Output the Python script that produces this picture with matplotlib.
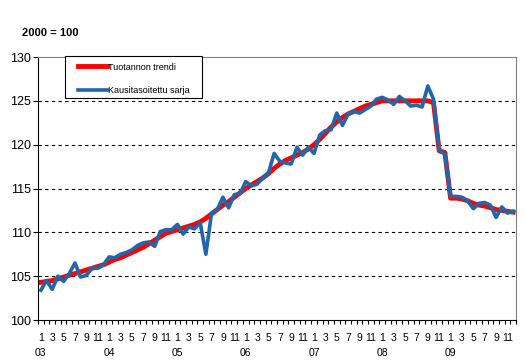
import numpy as np
import matplotlib
matplotlib.use("Agg")
import matplotlib.pyplot as plt
from matplotlib.patches import Rectangle

plt.rcParams['font.family'] = ['Liberation Sans', 'DejaVu Sans']

years = ["03", "04", "05", "06", "07", "08", "09"]
months = list(range(1, 13))

# Tuotannon trendi, 1/2003 - 12/2009
trend = [
    104.3, 104.4, 104.5, 104.7, 104.9, 105.1, 105.3, 105.5, 105.7, 105.9, 106.1, 106.3,
    106.6, 106.9, 107.1, 107.4, 107.7, 108.0, 108.3, 108.7, 109.1, 109.5, 109.9, 110.1,
    110.3, 110.5, 110.7, 110.9, 111.2, 111.6, 112.1, 112.6, 113.1, 113.5, 114.0, 114.5,
    115.0, 115.4, 115.8, 116.2, 116.7, 117.3, 117.8, 118.2, 118.5, 118.8, 119.1, 119.5,
    120.0, 120.6, 121.3, 122.0, 122.6, 123.1, 123.5, 123.8, 124.1, 124.4, 124.6, 124.8,
    125.0, 125.0, 125.0, 125.0, 125.0, 125.0, 125.0, 125.0, 125.0, 124.8, 119.3, 119.1,
    113.9, 113.9, 113.8, 113.6, 113.3, 113.1, 113.0, 112.8, 112.6, 112.5, 112.4, 112.3,
]

# Kausitasoitettu sarja
seasonal = [
    103.4, 104.5, 103.5, 105.0, 104.4, 105.3, 106.5, 104.9, 105.1, 105.9, 105.9, 106.3,
    107.2, 107.1, 107.5, 107.7, 108.0, 108.5, 108.8, 108.9, 108.4, 110.1, 110.3, 110.3,
    110.9, 109.8, 110.6, 110.4, 111.1, 107.5, 112.2, 112.6, 114.0, 112.8, 114.3, 114.4,
    115.8, 115.3, 115.5, 116.2, 116.8, 119.0, 118.1, 117.9, 117.8, 119.7, 118.8, 119.7,
    119.0, 121.1, 121.6, 121.7, 123.6, 122.2, 123.5, 123.8, 123.6, 124.0, 124.4, 125.2,
    125.4, 125.1, 124.6, 125.5, 125.0, 124.4, 124.5, 124.3, 126.7, 125.2, 119.4, 118.9,
    114.1, 114.1, 114.0, 113.6, 112.7, 113.3, 113.4, 113.1, 111.7, 112.9, 112.2, 112.4,
]

x = np.arange(len(trend))

fig = plt.figure(figsize=(5.26, 3.64), dpi=100)
ax = fig.add_axes([38/526, 1 - 320/364, 478/526, 263/364])

ax.plot(x, trend, color="#ff0000", lw=3.5, label="Tuotannon trendi")
ax.plot(x, seasonal, color="#1f66ab", lw=2.6, label="Kausitasoitettu sarja")

ax.set_xlim(-0.5, len(trend) - 0.5)
ax.set_ylim(100, 130)
ax.set_yticks(range(100, 131, 5))
ax.tick_params(axis="y", length=3.6, width=0.8, pad=1.5, labelsize=9)
for yv in range(105, 130, 5):
    ax.axhline(yv, color="black", lw=0.8, ls=(0, (3, 3)), zorder=0)

# kuukaudet, vuosi tammikuun alle
labels = []
pos = []
for yi, yr in enumerate(years):
    for m in months:
        if m % 2 == 1:
            pos.append(yi * 12 + m - 1)
            labels.append(f"{m}\n{yr}" if m == 1 else str(m))
ax.set_xticks(pos)
ax.set_xticklabels(labels, fontsize=7.5, linespacing=1.65)
ax.tick_params(axis="x", which="major", length=0, pad=9.5)
ax.set_xticks(np.arange(-0.5, len(trend), 1), minor=True)
ax.tick_params(axis="x", which="minor", length=3, width=0.8)

for s in ["top", "right"]:
    ax.spines[s].set_color("#808080")
for s in ["left", "bottom"]:
    ax.spines[s].set_color("black")

# legendan kehys erikseen
ax.add_patch(Rectangle((27/478, (320 - 98)/263), 137/478, 42/263, transform=ax.transAxes,
                       facecolor="white", edgecolor="black", lw=0.8, zorder=4, clip_on=False))
leg = ax.legend(loc="upper left", bbox_to_anchor=(40/478, (320 - 62.5)/263), fontsize=6.5,
                frameon=False, handlelength=3.2, handletextpad=0.1, labelspacing=1.6,
                borderpad=0, borderaxespad=0)
leg.set_zorder(5)

fig.text(22/526, 1 - 33/364, "2000 = 100", fontsize=8, fontweight="bold", va="center")

fig.savefig("out.png", dpi=100)
